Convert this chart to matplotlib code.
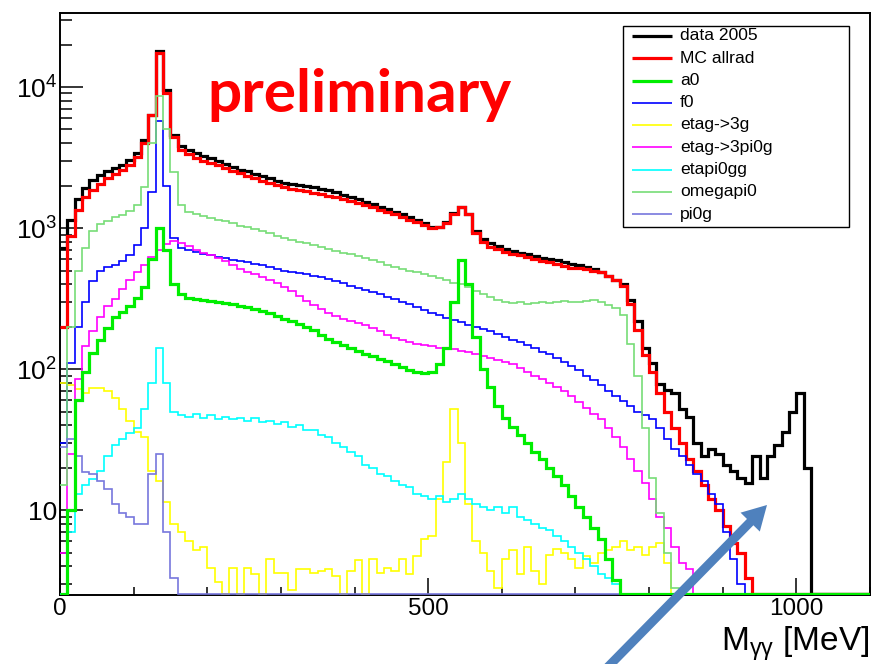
import numpy as np
import matplotlib

matplotlib.use("Agg")
import matplotlib.pyplot as plt
from matplotlib.patches import Rectangle, FancyArrow
from matplotlib.ticker import FixedLocator, LogLocator, MultipleLocator, NullFormatter

plt.rcParams["font.family"] = ["Liberation Sans", "DejaVu Sans"]
plt.rcParams["mathtext.fontset"] = "custom"
plt.rcParams["mathtext.rm"] = "Liberation Sans"
plt.rcParams["mathtext.it"] = "Liberation Sans:italic"

# M_gg spectrum, 10 MeV bins from 0 to 1100 MeV (one row = 100 MeV)
bin_edges = np.arange(0, 1101, 10)

data_2005 = [
    720, 1150, 1600, 1920, 2200, 2380, 2530, 2680, 2800, 3040,
    3400, 4200, 6300, 18000, 9500, 4600, 3800, 3550, 3380, 3250,
    3120, 2990, 2860, 2730, 2600, 2520, 2420, 2330, 2250, 2160,
    2100, 2060, 2020, 1980, 1950, 1900, 1850, 1790, 1720, 1660,
    1600, 1540, 1480, 1420, 1370, 1310, 1260, 1200, 1150, 1090,
    1020, 1010, 1100, 1280, 1420, 1250, 950, 840, 780, 750,
    710, 690, 670, 650, 630, 615, 600, 590, 575, 560,
    545, 530, 515, 490, 460, 430, 400, 310, 220, 140,
    110, 78, 71, 68, 52, 46, 30, 24, 27, 25,
    21, 19, 17, 15.5, 24, 17, 24, 29, 36, 50,
    68, 20, 0, 0, 0, 0, 0, 0, 0, 0,
]
mc_allrad = [
    200, 880, 1350, 1650, 1850, 2050, 2250, 2400, 2600, 2800,
    3200, 4000, 6300, 17500, 9000, 4400, 3550, 3350, 3150, 3000,
    2900, 2780, 2660, 2540, 2440, 2350, 2260, 2170, 2090, 2010,
    1950, 1900, 1860, 1820, 1780, 1740, 1700, 1650, 1600, 1550,
    1500, 1450, 1400, 1350, 1300, 1250, 1200, 1150, 1100, 1050,
    1000, 1010, 1080, 1250, 1400, 1250, 920, 800, 740, 705,
    680, 660, 640, 620, 600, 585, 570, 555, 540, 525,
    520, 510, 500, 490, 460, 425, 390, 290, 190, 125,
    95, 68, 50, 38, 30, 23, 19, 15, 12, 10,
    7.7, 5.8, 5, 3.3, 0, 0, 0, 0, 0, 0,
    0, 0, 0, 0, 0, 0, 0, 0, 0, 0,
]
a0 = [
    0, 10, 60, 95, 130, 160, 195, 235, 255, 280,
    320, 380, 600, 1000, 700, 400, 340, 320, 315, 310,
    305, 300, 295, 288, 282, 276, 268, 260, 248, 236,
    228, 218, 208, 198, 188, 175, 163, 155, 148, 140,
    134, 128, 123, 118, 114, 108, 103, 98, 95, 94,
    96, 108, 140, 300, 590, 400, 170, 100, 75, 55,
    45, 39, 34, 30, 26, 23, 20, 17.5, 15, 12.5,
    10.5, 9, 7.5, 6.2, 4.5, 3.2, 0, 0, 0, 0,
    0, 0, 0, 0, 0, 0, 0, 0, 0, 0,
    0, 0, 0, 0, 0, 0, 0, 0, 0, 0,
    0, 0, 0, 0, 0, 0, 0, 0, 0, 0,
]
f0 = [
    30, 110, 200, 300, 420, 500, 530, 550, 580, 640,
    760, 1000, 1800, 5700, 2000, 850, 720, 695, 680, 660,
    640, 625, 610, 595, 580, 570, 560, 545, 530, 515,
    500, 490, 480, 470, 460, 450, 435, 420, 405, 390,
    378, 365, 350, 338, 325, 312, 300, 290, 275, 262,
    250, 240, 230, 222, 215, 207, 200, 192, 185, 178,
    170, 162, 155, 147, 140, 133, 127, 120, 113, 105,
    98, 90, 83, 77, 70, 64, 59, 55, 50, 47,
    44, 38, 32, 27, 24, 21, 18, 16, 13, 11,
    7, 4.5, 3, 0, 0, 0, 0, 0, 0, 0,
    0, 0, 0, 0, 0, 0, 0, 0, 0, 0,
]
etag_3g = [
    80, 77, 72, 68, 73, 74, 70, 62, 52, 43,
    36, 33, 19, 16, 11.5, 8, 7, 6, 5.2, 5.5,
    3.9, 3.1, 0, 3.9, 0, 3.9, 3.5, 0, 4.5, 3.6,
    3.6, 2.7, 3.8, 3.8, 3.6, 3.7, 3.8, 3.4, 0, 3.7,
    4.4, 0, 4.5, 3.6, 3.9, 3.7, 4.5, 3.5, 4.7, 6.2,
    6.5, 12, 22, 52, 30, 11, 6, 5, 3.7, 2.8,
    4.5, 5.2, 3.5, 5.5, 3.7, 3, 4.8, 5.3, 5, 4.5,
    3.9, 4.7, 4.2, 5, 5.2, 5.5, 6, 5.2, 5.5, 4.8,
    5.5, 5.8, 4.2, 0, 0, 0, 0, 0, 0, 0,
    0, 0, 0, 0, 0, 0, 0, 0, 0, 0,
    0, 0, 0, 0, 0, 0, 0, 0, 0, 0,
]
etag_3pi0g = [
    5, 25, 85, 145, 185, 235, 280, 315, 370, 430,
    490, 550, 620, 700, 770, 810, 780, 745, 700, 665,
    640, 610, 580, 550, 515, 490, 470, 450, 430, 405,
    380, 360, 330, 305, 285, 265, 250, 238, 228, 220,
    212, 204, 195, 185, 175, 165, 160, 155, 150, 148,
    145, 142, 140, 138, 135, 132, 128, 124, 120, 116,
    112, 108, 102, 96, 90, 85, 80, 75, 70, 64,
    58, 53, 48, 44, 38, 33, 28, 23, 19, 15.5,
    12, 9, 7.5, 5.5, 4.2, 3.8, 0, 0, 0, 0,
    0, 0, 0, 0, 0, 0, 0, 0, 0, 0,
    0, 0, 0, 0, 0, 0, 0, 0, 0, 0,
]
etapi0gg = [
    0, 7, 13, 15, 16.5, 19, 24, 29, 32, 35,
    38, 52, 80, 140, 80, 50, 47, 46, 48, 45,
    47, 44, 46, 44, 45, 43, 45, 42, 43, 41,
    42, 39, 40, 37, 37, 34, 33, 30, 28, 26,
    24, 21, 20, 18, 17.5, 16, 15, 14.5, 13, 12.5,
    12, 12.5, 11.5, 12, 13, 12, 11, 10.5, 10, 10.5,
    9.5, 10.5, 9, 8.5, 8, 7.5, 7.2, 6.5, 6, 5.5,
    5, 4.5, 4, 3.5, 3.3, 3, 0, 0, 0, 0,
    0, 0, 0, 0, 0, 0, 0, 0, 0, 0,
    0, 0, 0, 0, 0, 0, 0, 0, 0, 0,
    0, 0, 0, 0, 0, 0, 0, 0, 0, 0,
]
omegapi0 = [
    15, 200, 500, 720, 950, 1060, 1130, 1190, 1240, 1330,
    1450, 1950, 4000, 8700, 5000, 2500, 1450, 1300, 1250, 1210,
    1180, 1150, 1120, 1080, 1040, 1010, 980, 950, 920, 880,
    850, 820, 800, 780, 760, 730, 710, 690, 670, 650,
    630, 610, 590, 570, 550, 530, 515, 500, 485, 470,
    455, 440, 425, 410, 400, 385, 360, 340, 325, 310,
    300, 295, 298, 290, 295, 300, 295, 300, 305, 300,
    300, 305, 310, 300, 285, 270, 240, 150, 90, 38,
    17, 9.5, 5, 2.8, 0, 0, 0, 0, 0, 0,
    0, 0, 0, 0, 0, 0, 0, 0, 0, 0,
    0, 0, 0, 0, 0, 0, 0, 0, 0, 0,
]
pi0g = [
    28, 32, 24, 18.5, 18, 16, 14, 11, 9.5, 9,
    8, 8, 18, 25, 7, 3.3, 0, 0, 0, 0,
] + [0] * 90

legend_labels = ["data 2005", "MC allrad", "a0", "f0", "etag->3g",
                 "etag->3pi0g", "etapi0gg", "omegapi0", "pi0g"]

Y_MIN, Y_MAX = 2.5, 3.35e4

# label -> (counts, colour, line width)
histos = {
    "data 2005": (data_2005, "#000000", 2.3),
    "MC allrad": (mc_allrad, "#ff0000", 2.3),
    "a0": (a0, "#00ee00", 2.3),
    "f0": (f0, "#0000ff", 1.2),
    "etag->3g": (etag_3g, "#ffff00", 1.2),
    "etag->3pi0g": (etag_3pi0g, "#ff00ff", 1.2),
    "etapi0gg": (etapi0gg, "#00ffff", 1.2),
    "omegapi0": (omegapi0, "#77dd77", 1.2),
    "pi0g": (pi0g, "#7777dd", 1.2),
}
draw_order = ["data 2005", "MC allrad", "f0", "etag->3g", "etag->3pi0g",
              "etapi0gg", "omegapi0", "pi0g", "a0"]

fig = plt.figure(figsize=(8.72, 6.64), dpi=100)
ax = fig.add_axes([60 / 872, 1 - 595 / 664, 810 / 872, 582 / 664])

for i, name in enumerate(draw_order):
    counts, color, lw = histos[name]
    assert len(counts) == len(bin_edges) - 1, name
    # empty bins sit on the lower frame edge, as on a log plot in ROOT
    vals = np.clip(np.asarray(counts, dtype=float), Y_MIN * 1.01, None)
    ax.stairs(vals, bin_edges, baseline=None, color=color, lw=lw, zorder=2 + i)

ax.set_xlim(0, 1100)
ax.set_yscale("log")
ax.set_ylim(Y_MIN, Y_MAX)

ax.yaxis.set_major_locator(FixedLocator([10, 100, 1000, 10000]))
ax.set_yticklabels(["10", r"$10^{2}$", r"$10^{3}$", r"$10^{4}$"])
ax.yaxis.set_minor_locator(LogLocator(base=10, subs=np.arange(2, 10), numticks=20))
ax.yaxis.set_minor_formatter(NullFormatter())
ax.xaxis.set_major_locator(MultipleLocator(500))
ax.xaxis.set_minor_locator(MultipleLocator(100))

ax.tick_params(which="both", direction="in", top=False, right=False, width=1.1)
ax.tick_params(axis="y", which="major", length=16.5, pad=2, labelsize=19)
ax.tick_params(axis="y", which="minor", length=8.5)
ax.tick_params(axis="x", which="major", length=12, pad=2, labelsize=17.5)
ax.tick_params(axis="x", which="minor", length=6)
for spine in ax.spines.values():
    spine.set_linewidth(1.4)

ax.set_xlabel(r"M$_{\mathregular{γγ}}$ [MeV]", fontsize=24, loc="right")
ax.xaxis.set_label_coords(1.0, -0.0515)

ax.text((207 - 60) / 810, (595 - 112) / 582, "preliminary", transform=ax.transAxes,
        fontsize=43.5, fontweight="bold", family="Lato", color="#ff0000",
        va="baseline", ha="left", zorder=20)

# overlay in figure pixels for the legend box and the pointer arrow
over = fig.add_axes([0, 0, 1, 1], zorder=10)
over.set_xlim(0, 872)
over.set_ylim(664, 0)
over.axis("off")
over.patch.set_alpha(0)

over.add_patch(Rectangle((623, 26), 226, 201, facecolor="white",
                         edgecolor="black", lw=1.0))
for i, name in enumerate(legend_labels):
    _, color, lw = histos[name]
    yc = 36 + 22.25 * i
    over.plot([632, 672], [yc, yc], color=color, lw=lw, solid_capstyle="butt")
    over.text(680, yc, name, fontsize=12.6, va="center", ha="left")

over.add_patch(FancyArrow(598, 677, 169, -172, width=9, head_width=27,
                          head_length=24, length_includes_head=True,
                          color="#4f81bd", lw=0))

fig.savefig("out.png", dpi=100)
